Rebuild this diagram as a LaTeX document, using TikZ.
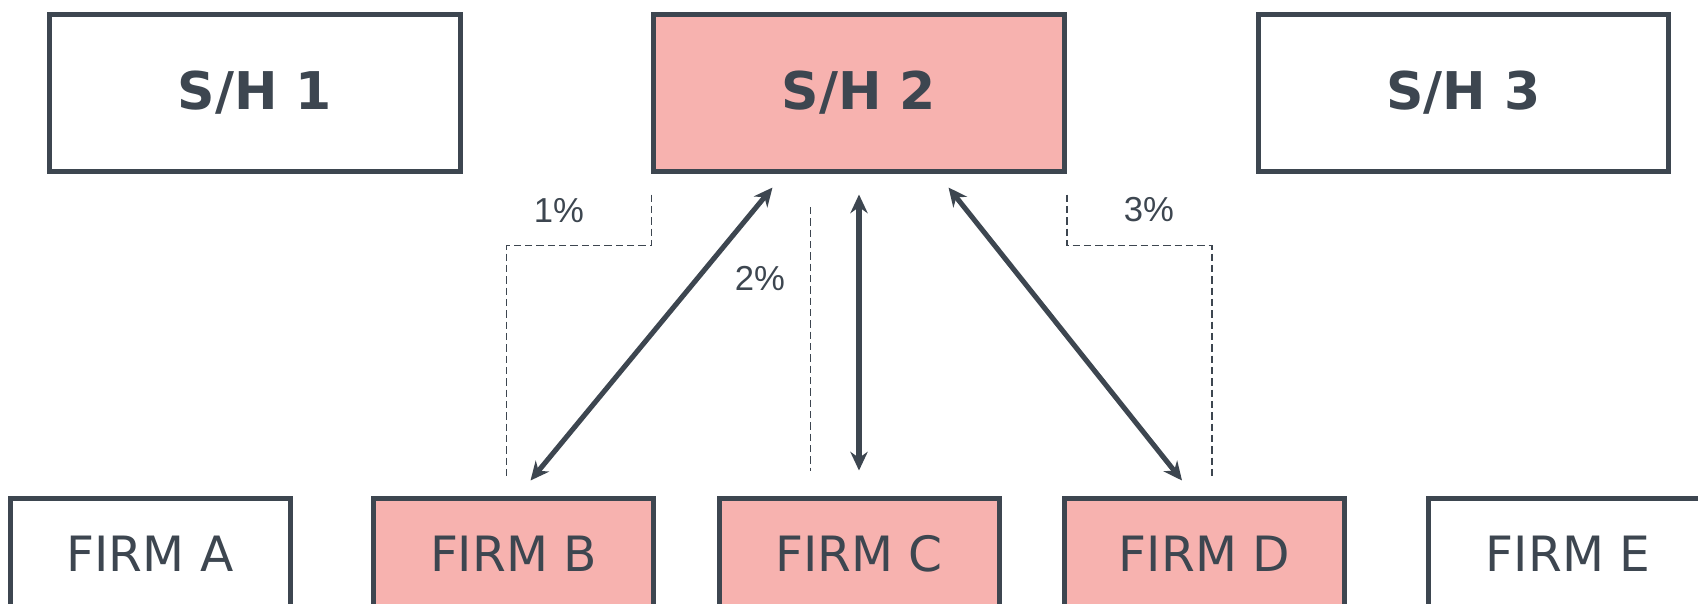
\documentclass[tikz,border=0pt]{standalone}
\usepackage{fontspec}
\setmainfont{DejaVu Sans}
\newfontfamily\pctfont{Liberation Sans}
\usetikzlibrary{arrows.meta,calc}
\definecolor{slate}{HTML}{3D4650}
\definecolor{rose}{HTML}{F7B2AF}
\begin{document}
\begin{tikzpicture}[x=0.75pt, y=-0.75pt, % 1 unit = 1px, y down
  holder/.style={draw=slate, line width=3.75pt, text=slate, minimum width=308pt, minimum height=117.4pt, font=\fontsize{39}{44}\selectfont\bfseries},
  firm/.style={draw=slate, line width=3.75pt, text=slate, minimum width=210pt, minimum height=84pt, font=\fontsize{36.5}{40}\selectfont},
  hit/.style={fill=rose},
  link/.style={slate, line width=3.8pt, {Stealth[length=14pt,width=13pt]}-{Stealth[length=14pt,width=13pt]}},
  share/.style={slate, line width=1pt, dash pattern=on 5.5pt off 3pt},
  pct/.style={text=slate, font=\fontsize{26}{30}\selectfont\pctfont}]
\useasboundingbox (0,0) rectangle (1698,603);
\clip (0,0) rectangle (1698,603);
\node[holder] (SH_1) at (255,92.75) {S/H 1};
\node[holder, hit] (SH_2) at (859,92.75) {S/H 2};
\node[holder] (SH_3) at (1463.5,92.75) {S/H 3};
\node[firm] (F_A) at (150,554) {FIRM A};
\node[firm, hit] (F_B) at (513.5,554) {FIRM B};
\node[firm, hit] (F_C) at (859,554) {FIRM C};
\node[firm, hit] (F_D) at (1204.5,554) {FIRM D};
\node[firm] (F_E) at (1568,554) {FIRM E};
% stakes
\draw[link] ($(F_B.north)+(17,-15)$) -- ($(SH_2.south)+(-86.5,14)$);
\draw[link] ($(F_C.north)+(0,-25)$) -- ($(SH_2.south)+(0,21)$);
\draw[link] ($(F_D.north)+(-22.5,-15)$) -- ($(SH_2.south)+(89.5,14)$);
% percentages
\draw[share] ($(SH_2.south west)+(0,21)$) -- ++(0,51) -- ++(-145,0) -- ++(0,230);
\node[pct] (P_1) at (559,211) {1\%};
\draw[share] (810.5,207) -- (810.5,471);
\node[pct] (P_2) at (760,278) {2\%};
\draw[share] ($(SH_2.south east)+(0,21)$) -- ++(0,51) -- ++(145,0) -- ++(0,230);
\node[pct] (P_3) at (1149,210) {3\%};
\end{tikzpicture}
\end{document}
